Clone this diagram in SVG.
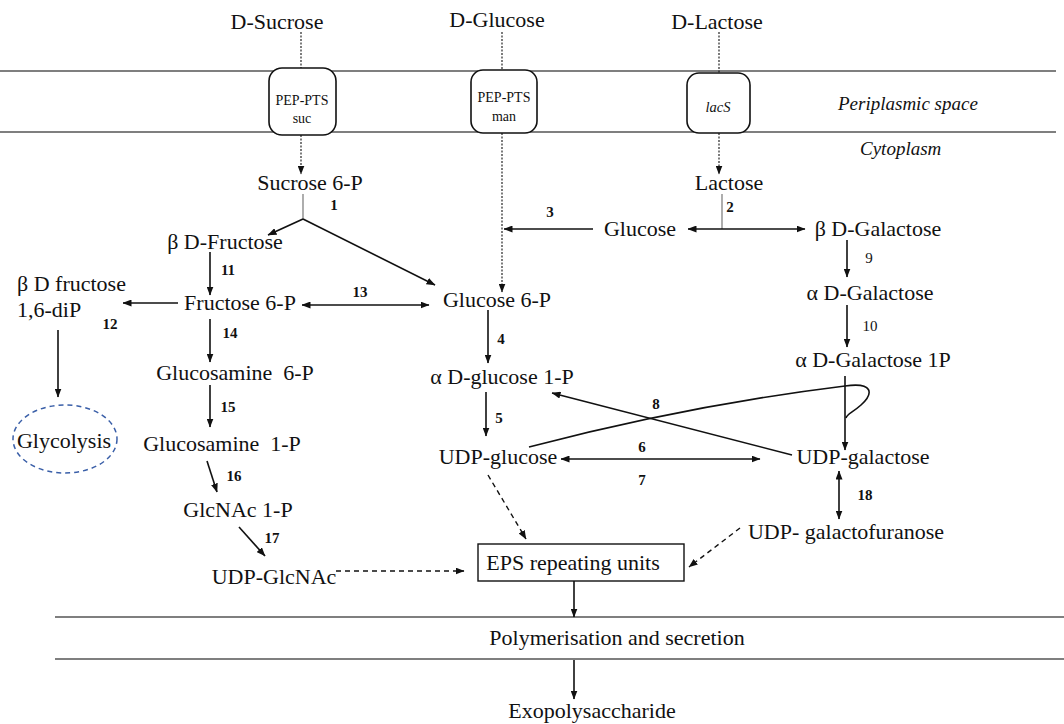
<svg xmlns="http://www.w3.org/2000/svg" width="1064" height="724" viewBox="0 0 1064 724">
<style>
text{font-family:"Liberation Serif","Times New Roman",serif;fill:#111}
.t{font-size:22px;text-anchor:middle}
.tl{font-size:22px}
.n{font-size:15px;font-weight:bold;text-anchor:middle}
.nn{font-size:15px;text-anchor:middle}
.it{font-size:19px;font-style:italic}
.bt{font-size:14px;text-anchor:middle}
.box{fill:#fff;stroke:#111;stroke-width:1.6}
.mem{stroke:#555;stroke-width:1.5;fill:none}
.c{stroke:#111;stroke-width:1.6;fill:none}
.thin{stroke:#777;stroke-width:1.2;fill:none}
.dot{stroke:#111;stroke-width:1.1;stroke-dasharray:2 1.5;fill:none}
.dash{stroke:#111;stroke-width:1.4;stroke-dasharray:5 4;fill:none}
.a{marker-end:url(#ah)}
.b{marker-end:url(#ah);marker-start:url(#ah)}
</style>
<defs>
<marker id="ah" markerUnits="userSpaceOnUse" markerWidth="9" markerHeight="7" refX="8.5" refY="3.5" orient="auto-start-reverse">
<path d="M0,0 L9,3.5 L0,7 z" fill="#111"/>
</marker>
</defs>
<rect width="1064" height="724" fill="#fff"/>
<g id="membranes">
<line class="mem" x1="0" y1="71" x2="1056" y2="71"/>
<line class="mem" x1="0" y1="132" x2="1056" y2="132"/>
<line class="mem" x1="55" y1="617" x2="1064" y2="617"/>
<line class="mem" x1="55" y1="659" x2="1064" y2="659"/>
<text class="it" x="838" y="110">Periplasmic space</text>
<text class="it" x="860" y="155">Cytoplasm</text>
</g>
<g id="connectors">
<line class="dot" x1="301" y1="32" x2="301" y2="70"/>
<line class="dot a" x1="301" y1="135" x2="301" y2="174"/>
<line class="dot" x1="502" y1="32" x2="502" y2="70"/>
<line class="dot a" x1="502" y1="133" x2="502" y2="292"/>
<line class="dot" x1="719" y1="32" x2="719" y2="73"/>
<line class="dot a" x1="719" y1="133" x2="719" y2="174"/>
<line class="thin" x1="303" y1="194" x2="303" y2="219"/>
<line class="c a" x1="303" y1="219" x2="268" y2="235"/>
<line class="c a" x1="303" y1="219" x2="435" y2="285"/>
<line class="thin" x1="722" y1="194" x2="722" y2="229"/>
<line class="c b" x1="688" y1="229" x2="805" y2="229"/>
<line class="c a" x1="593" y1="229" x2="504" y2="229"/>
<line class="c a" x1="210" y1="252" x2="210" y2="295"/>
<line class="c a" x1="178" y1="303" x2="123" y2="303"/>
<line class="c b" x1="302" y1="305" x2="429" y2="305"/>
<line class="c a" x1="210" y1="319" x2="210" y2="362"/>
<line class="c a" x1="210" y1="385" x2="210" y2="427"/>
<line class="c a" x1="207" y1="461" x2="217" y2="492"/>
<line class="c a" x1="239" y1="527" x2="265" y2="556"/>
<line class="c a" x1="58" y1="330" x2="58" y2="397"/>
<line class="c a" x1="488" y1="310" x2="488" y2="363"/>
<line class="c a" x1="486" y1="392" x2="486" y2="436"/>
<line class="c b" x1="561" y1="459" x2="760" y2="459"/>
<line class="c a" x1="792" y1="455" x2="552" y2="393"/>
<path class="c" d="M529,447 Q690,405 845,386 C873,382 874,393 861,405 C852,413 847,414 846,418"/>
<line class="c a" x1="845" y1="376" x2="845" y2="450"/>
<line class="c a" x1="847" y1="240" x2="847" y2="277"/>
<line class="c a" x1="847" y1="305" x2="847" y2="347"/>
<line class="c b" x1="839" y1="471" x2="839" y2="519"/>
<line class="dash a" x1="488" y1="475" x2="526" y2="539"/>
<line class="dash a" x1="740" y1="528" x2="689" y2="567"/>
<line class="dash a" x1="336" y1="571" x2="464" y2="571"/>
<line class="c a" x1="574" y1="581" x2="574" y2="617"/>
<line class="c a" x1="574" y1="660" x2="574" y2="699"/>
</g>
<g id="labels">
<text class="n" x="334" y="210">1</text>
<text class="n" x="730" y="212">2</text>
<text class="n" x="550" y="217">3</text>
<text class="n" x="501" y="344">4</text>
<text class="n" x="499" y="423">5</text>
<text class="n" x="642" y="452">6</text>
<text class="n" x="642" y="485">7</text>
<text class="n" x="656" y="409">8</text>
<text class="nn" x="869" y="263">9</text>
<text class="nn" x="870" y="331">10</text>
<text class="n" x="228" y="275">11</text>
<text class="n" x="110" y="329">12</text>
<text class="n" x="360" y="297">13</text>
<text class="n" x="230" y="338">14</text>
<text class="n" x="228" y="412">15</text>
<text class="n" x="234" y="481">16</text>
<text class="n" x="272" y="543">17</text>
<text class="n" x="865" y="500">18</text>
</g>
<g id="n-dsucrose"><text class="t" x="277" y="29">D-Sucrose</text></g>
<g id="n-dglucose"><text class="t" x="497" y="27">D-Glucose</text></g>
<g id="n-dlactose"><text class="t" x="717" y="29">D-Lactose</text></g>
<g id="n-ptssuc"><rect class="box" x="269" y="68" width="67" height="67" rx="13"/><text class="bt" x="302" y="105">PEP-PTS</text><text class="bt" x="302" y="123">suc</text></g>
<g id="n-ptsman"><rect class="box" x="471" y="70" width="66" height="63" rx="12"/><text class="bt" x="504" y="102">PEP-PTS</text><text class="bt" x="504" y="121">man</text></g>
<g id="n-lacs"><rect class="box" x="687" y="73" width="63" height="60" rx="12"/><text x="718" y="112" font-size="14.5" font-style="italic" text-anchor="middle">lacS</text></g>
<g id="n-suc6p"><text class="t" x="310" y="190">Sucrose 6-P</text></g>
<g id="n-lactose"><text class="t" x="729" y="190">Lactose</text></g>
<g id="n-bfru"><text class="t" x="225" y="249">β D-Fructose</text></g>
<g id="n-glucose"><text class="t" x="640" y="236">Glucose</text></g>
<g id="n-bgal"><text class="t" x="878" y="236">β D-Galactose</text></g>
<g id="n-bfrudip"><text class="tl" x="17" y="291">β D fructose</text><text class="tl" x="17" y="317">1,6-diP</text></g>
<g id="n-fru6p"><text class="t" x="240" y="310">Fructose 6-P</text></g>
<g id="n-glc6p"><text class="t" x="497" y="307">Glucose 6-P</text></g>
<g id="n-agal"><text class="t" x="870" y="300">α D-Galactose</text></g>
<g id="n-aglc1p"><text class="t" x="502" y="384">α D-glucose 1-P</text></g>
<g id="n-agal1p"><text class="t" x="873" y="367">α D-Galactose 1P</text></g>
<g id="n-gn6p"><text class="t" x="235" y="380" xml:space="preserve">Glucosamine  6-P</text></g>
<g id="n-gn1p"><text class="t" x="222" y="451" xml:space="preserve">Glucosamine  1-P</text></g>
<g id="n-glycolysis"><ellipse cx="65" cy="439" rx="52" ry="34" fill="none" stroke="#3a5fa8" stroke-width="1.5" stroke-dasharray="5 4"/><text class="t" x="64" y="448">Glycolysis</text></g>
<g id="n-udpglc"><text class="t" x="498" y="464">UDP-glucose</text></g>
<g id="n-udpgal"><text class="t" x="863" y="464">UDP-galactose</text></g>
<g id="n-glcnac1p"><text class="t" x="238" y="517">GlcNAc 1-P</text></g>
<g id="n-udpgalf"><text class="t" x="846" y="539">UDP- galactofuranose</text></g>
<g id="n-udpglcnac"><text class="t" x="274" y="584">UDP-GlcNAc</text></g>
<g id="n-eps"><rect x="478" y="544" width="206" height="37" fill="#fff" stroke="#111" stroke-width="1.4"/><text class="t" x="573" y="570">EPS repeating units</text></g>
<g id="n-poly"><text class="t" x="617" y="645">Polymerisation and secretion</text></g>
<g id="n-exo"><text class="t" x="592" y="718">Exopolysaccharide</text></g>
</svg>
